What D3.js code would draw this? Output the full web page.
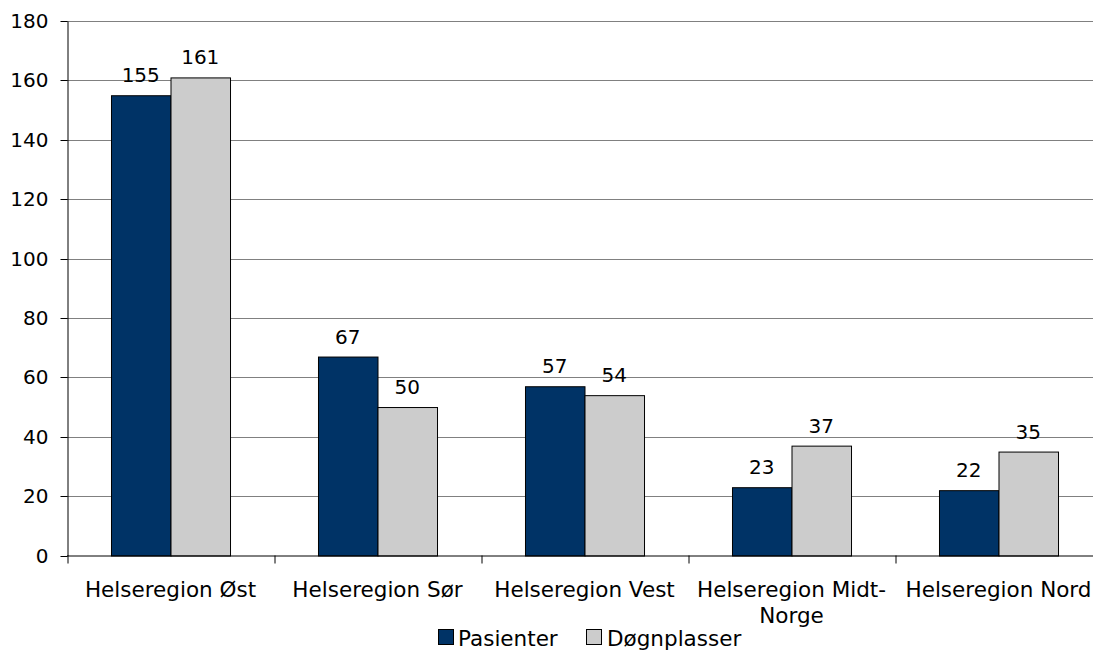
<!DOCTYPE html>
<html><head><meta charset="utf-8">
<script src="https://cdn.jsdelivr.net/npm/d3@7"></script>
<style>body{margin:0;background:#fff}svg{display:block}text{font-family:"DejaVu Sans",Verdana,sans-serif;fill:#000}</style>
</head><body><svg id="c" width="1093" height="650"></svg>
<script>
const categories = [["Helseregion Øst"],["Helseregion Sør"],["Helseregion Vest"],["Helseregion Midt-","Norge"],["Helseregion Nord"]];
const seriesNames = ["Pasienter","Døgnplasser"];
const pasienter = [155,67,57,23,22];
const dognplasser = [161,50,54,37,35];
const yTicks = [0,20,40,60,80,100,120,140,160,180];
const colors = ["#003366","#cccccc"];

(function(){
const svg = d3.select("#c");
const left = 67, right = 1102, plotTop = 21, bottom = 555.5;
const idx = categories.map((d,i)=>i);
const x = d3.scaleBand().domain(idx).range([left,right]).paddingInner(0).paddingOuter(0);
const y = d3.scaleLinear().domain([0,180]).range([bottom,plotTop]);
const inner = d3.scaleBand().domain([0,1]).range([0, x.bandwidth()*0.575]);
const fsNum = 20, fsTxt = 21.5;

// gridlines
svg.append("g").selectAll("line").data(yTicks.filter(t=>t>0)).join("line")
  .attr("x1",left).attr("x2",1093).attr("y1",d=>Math.round(y(d))+0.5).attr("y2",d=>Math.round(y(d))+0.5)
  .attr("stroke","#808080").attr("stroke-width",1);

// y axis
const ya = svg.append("g").attr("transform",`translate(${left+0.5},0)`)
  .call(d3.axisLeft(y).tickValues(yTicks).tickSize(7).tickSizeOuter(0).tickPadding(12));
ya.select(".domain").attr("stroke","#000");
ya.selectAll(".tick line").attr("stroke","#000");
ya.selectAll(".tick text").style("font-size",fsNum+"px").attr("font-family","DejaVu Sans");
ya.selectAll(".tick").attr("transform",d=>`translate(0,${Math.round(y(d))+0.5})`);

// bars
const series = [pasienter, dognplasser];
series.forEach((vals,s)=>{
  const g = svg.append("g");
  g.selectAll("rect").data(vals).join("rect")
    .attr("x",(d,i)=>x(i)+x.bandwidth()*(1-0.575)/2+inner(s)+0.5)
    .attr("y",d=>y(d)+0.5)
    .attr("width",inner.bandwidth())
    .attr("height",d=>bottom-y(d))
    .attr("fill",colors[s]).attr("stroke","#000").attr("stroke-width",1);
  g.selectAll("text").data(vals).join("text")
    .attr("x",(d,i)=>x(i)+x.bandwidth()*(1-0.575)/2+inner(s)+inner.bandwidth()/2)
    .attr("y",d=>y(d)-13)
    .attr("text-anchor","middle").style("font-size",fsNum+"px").text(d=>d);
});

// x axis
const xa = svg.append("g").attr("transform",`translate(0,${bottom})`)
  .call(d3.axisBottom(d3.scaleLinear().domain([0,5]).range([left+0.5,right+0.5])).tickValues([0,1,2,3,4,5]).tickSize(8).tickSizeOuter(0).tickFormat(""));
xa.select(".domain").attr("stroke","#000").attr("d",`M${left},0.5H1093`);
xa.selectAll(".tick line").attr("stroke","#000");

// category labels
const cl = svg.append("g");
categories.forEach((lines,i)=>{
  const t = cl.append("text").attr("x",x(i)+x.bandwidth()/2).attr("y",597)
    .attr("text-anchor","middle").style("font-size",fsTxt+"px");
  lines.forEach((ln,j)=>t.append("tspan").attr("x",x(i)+x.bandwidth()/2).attr("dy",j?"26":0).text(ln));
});

// legend
const leg = svg.append("g");
const legItems = [{x:438,tx:458},{x:586,tx:607}];
seriesNames.forEach((n,i)=>{
  leg.append("rect").attr("x",legItems[i].x+0.5).attr("y",629.5).attr("width",15).attr("height",15)
    .attr("fill",colors[i]).attr("stroke","#000");
  leg.append("text").attr("x",legItems[i].tx).attr("y",646).style("font-size",fsTxt+"px").text(n);
});
})();
</script></body></html>
